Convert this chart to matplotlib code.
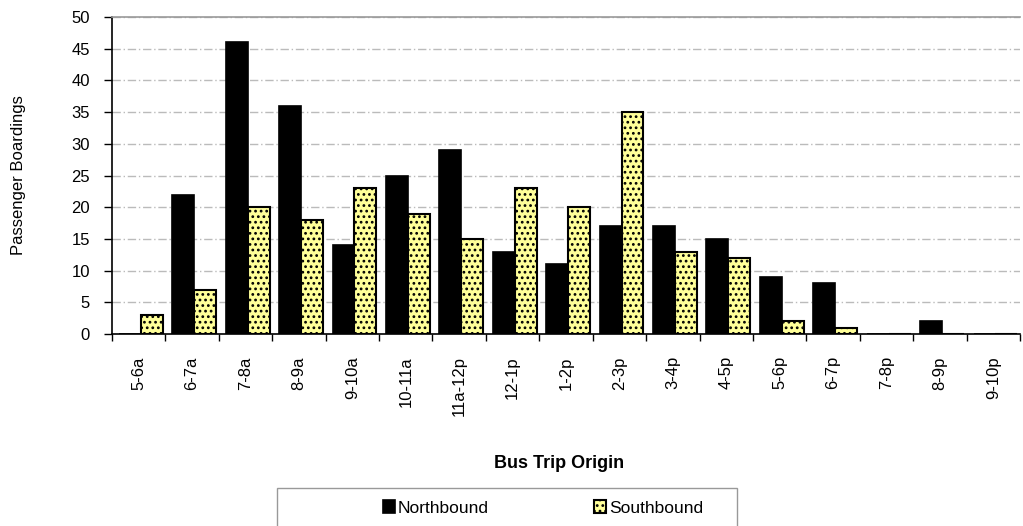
import matplotlib
matplotlib.use("Agg")
import matplotlib.pyplot as plt
import numpy as np
from matplotlib.patches import Rectangle

categories = ["5-6a", "6-7a", "7-8a", "8-9a", "9-10a", "10-11a", "11a-12p", "12-1p",
              "1-2p", "2-3p", "3-4p", "4-5p", "5-6p", "6-7p", "7-8p", "8-9p", "9-10p"]
northbound = [0, 22, 46, 36, 14, 25, 29, 13, 11, 17, 17, 15, 9, 8, 0, 2, 0]
southbound = [3, 7, 20, 18, 23, 19, 15, 23, 20, 35, 13, 12, 2, 1, 0, 0, 0]
yticks = [0, 5, 10, 15, 20, 25, 30, 35, 40, 45, 50]

plt.rcParams['font.family'] = ['Liberation Sans', 'DejaVu Sans']
plt.rcParams['hatch.color'] = '#333333'
plt.rcParams['hatch.linewidth'] = 1.2

W, H = 1023, 526
fig = plt.figure(figsize=(W / 100, H / 100), dpi=100)
ax = fig.add_axes([112 / W, 1 - 334 / H, (1020 - 112) / W, (334 - 17) / H])

x = np.arange(len(categories))
bw = 0.41
ax.bar(x - bw / 2 + 0.04, northbound, width=bw, color='black', edgecolor='black',
       linewidth=1.2, label='Northbound', zorder=3)
ax.bar(x + bw / 2 + 0.04, southbound, width=bw, color='#FFFF99', edgecolor='black',
       linewidth=1.5, hatch='...', label='Southbound', zorder=3)

ax.set_xlim(-0.5, len(categories) - 0.5)
ax.set_ylim(0, 50)
ax.set_yticks(yticks)
ax.set_yticklabels([str(v) for v in yticks], fontsize=12)
ax.set_xticks(x)
ax.set_xticklabels(categories, rotation=90, fontsize=12)
ax.tick_params(axis='x', length=0, pad=16)
ax.set_xticks(np.arange(len(categories) + 1) - 0.5, minor=True)
ax.tick_params(axis='x', which='minor', length=5, direction='out', width=1)
ax.tick_params(axis='y', length=6, direction='out', width=1, pad=10)

ax.yaxis.grid(True, linestyle=(0, (6, 2, 1, 2)), color='#bbbbbb', linewidth=1, zorder=0)
ax.set_axisbelow(True)
ax.spines['right'].set_visible(False)
ax.spines['top'].set_color('#999999')
ax.spines['top'].set_linewidth(1.2)
ax.spines['left'].set_linewidth(1.2)
ax.spines['bottom'].set_linewidth(1.2)

fig.text(19 / W, 1 - 175 / H, 'Passenger Boardings', rotation=90, ha='center', va='center', fontsize=12)
fig.text(559 / W, 1 - 463 / H, 'Bus Trip Origin', ha='center', va='center', fontsize=13, fontweight='bold')

rect = Rectangle((277 / W, -0.05), (737 - 277) / W, 0.05 + (526 - 488) / H, transform=fig.transFigure,
                 facecolor='white', edgecolor='#999999', linewidth=1)
fig.patches.append(rect)
handles, labels = ax.get_legend_handles_labels()
leg = fig.legend(handles, labels, loc='center', bbox_to_anchor=(543 / W, 1 - 508 / H), ncol=2,
                 frameon=False, fontsize=12.5, handlelength=0.7, handleheight=0.7, handletextpad=0.15,
                 columnspacing=6.05)

fig.savefig('out.png', dpi=100)
